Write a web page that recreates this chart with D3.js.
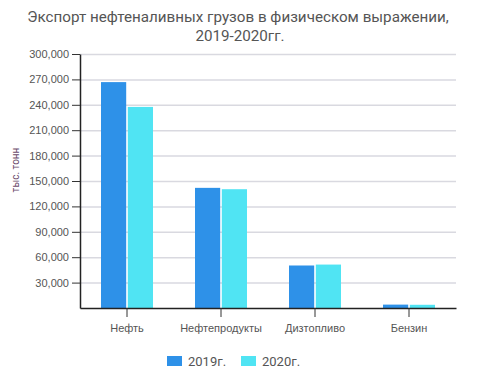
<!DOCTYPE html>
<html>
<head>
<meta charset="utf-8">
<script src="https://cdn.jsdelivr.net/npm/d3@7"></script>
<style>
  body { margin: 0; background: #fff; }
  svg { font-family: Roboto, "Noto Sans", sans-serif; }
</style>
</head>
<body>
<div id="chart"></div>
<script>
const categories = ["Нефть", "Нефтепродукты", "Дизтопливо", "Бензин"];
const seriesNames = ["2019г.", "2020г."];
const values2019 = [266800, 141900, 50200, 4000];
const values2020 = [237500, 140300, 51300, 3800];
const yTicks = [30000, 60000, 90000, 120000, 150000, 180000, 210000, 240000, 270000, 300000];
const colors = ["#2e91e8", "#50e4f3"];

const data = categories.map((c, i) => ({ cat: c, vals: [values2019[i], values2020[i]] }));

const fullWidth = 480, fullHeight = 386;
const margin = { top: 54, right: 24, bottom: 78, left: 80 };
const width = fullWidth - margin.left - margin.right;
const height = fullHeight - margin.top - margin.bottom;

const root = d3.select("#chart").append("svg")
  .attr("width", fullWidth)
  .attr("height", fullHeight);

// Title
const title = root.append("text")
  .attr("text-anchor", "middle")
  .style("font-size", "15.2px")
  .style("fill", "#555");
title.append("tspan").attr("x", 238).attr("y", 22).text("Экспорт нефтеналивных грузов в физическом выражении,");
title.append("tspan").attr("x", 240).attr("y", 41).text("2019-2020гг.");

const svg = root.append("g")
  .attr("transform", `translate(${margin.left},${margin.top})`);

// Scales
const y = d3.scaleLinear().domain([0, 300000]).range([height, 0]);
const x = d3.scaleBand().domain(categories).range([0, 376]).paddingInner(0).paddingOuter(0);
const xs = d3.scaleBand().domain(seriesNames).range([21, 73]).paddingInner(0.06);

// Gridlines
svg.append("g")
  .selectAll("line")
  .data(yTicks)
  .join("line")
  .attr("x1", 0)
  .attr("x2", 376)
  .attr("y1", d => y(d) + 0.5)
  .attr("y2", d => y(d) + 0.5)
  .attr("stroke", "#d9d9e0")
  .attr("stroke-width", 1.5);

// Bars
const groups = svg.selectAll(".grp")
  .data(data)
  .join("g")
  .attr("transform", d => `translate(${x(d.cat)},0)`);

groups.selectAll("rect")
  .data(d => d.vals.map((v, i) => ({ name: seriesNames[i], v, i })))
  .join("rect")
  .attr("x", d => xs(d.name))
  .attr("width", xs.bandwidth())
  .attr("y", d => y(d.v))
  .attr("height", d => height - y(d.v))
  .attr("fill", d => colors[d.i]);

// Y axis
const yAxis = svg.append("g")
  .call(d3.axisLeft(y).tickValues(yTicks).tickSize(8).tickSizeOuter(0).tickFormat(d3.format(",")));
yAxis.select(".domain").attr("stroke", "#222").attr("stroke-width", 1.5);
yAxis.selectAll(".tick line").attr("stroke", "#333");
yAxis.selectAll("text").style("font-size", "11px").style("fill", "#555").attr("x", -11);

// X axis
const xAxis = svg.append("g")
  .attr("transform", `translate(0,${height})`)
  .call(d3.axisBottom(x).tickSize(9).tickSizeOuter(0));
xAxis.select(".domain").attr("stroke", "#222").attr("stroke-width", 1.5);
xAxis.selectAll(".tick line").attr("stroke", "#333");
xAxis.selectAll("text").style("font-size", "11px").style("fill", "#555").attr("dy", "1.05em");

// Y axis label
root.append("text")
  .attr("transform", "translate(19,170) rotate(-90)")
  .attr("text-anchor", "middle")
  .style("font-size", "10px")
  .style("fill", "#6a4a6a")
  .text("тыс. тонн");

// Legend
const legend = root.append("g");
const legendX = [167, 241];
seriesNames.forEach((n, i) => {
  legend.append("rect")
    .attr("x", legendX[i]).attr("y", 356)
    .attr("width", 15).attr("height", 10)
    .attr("fill", colors[i]);
  legend.append("text")
    .attr("x", legendX[i] + 21).attr("y", 366)
    .style("font-size", "13px")
    .style("fill", "#555")
    .text(n);
});
</script>
</body>
</html>
